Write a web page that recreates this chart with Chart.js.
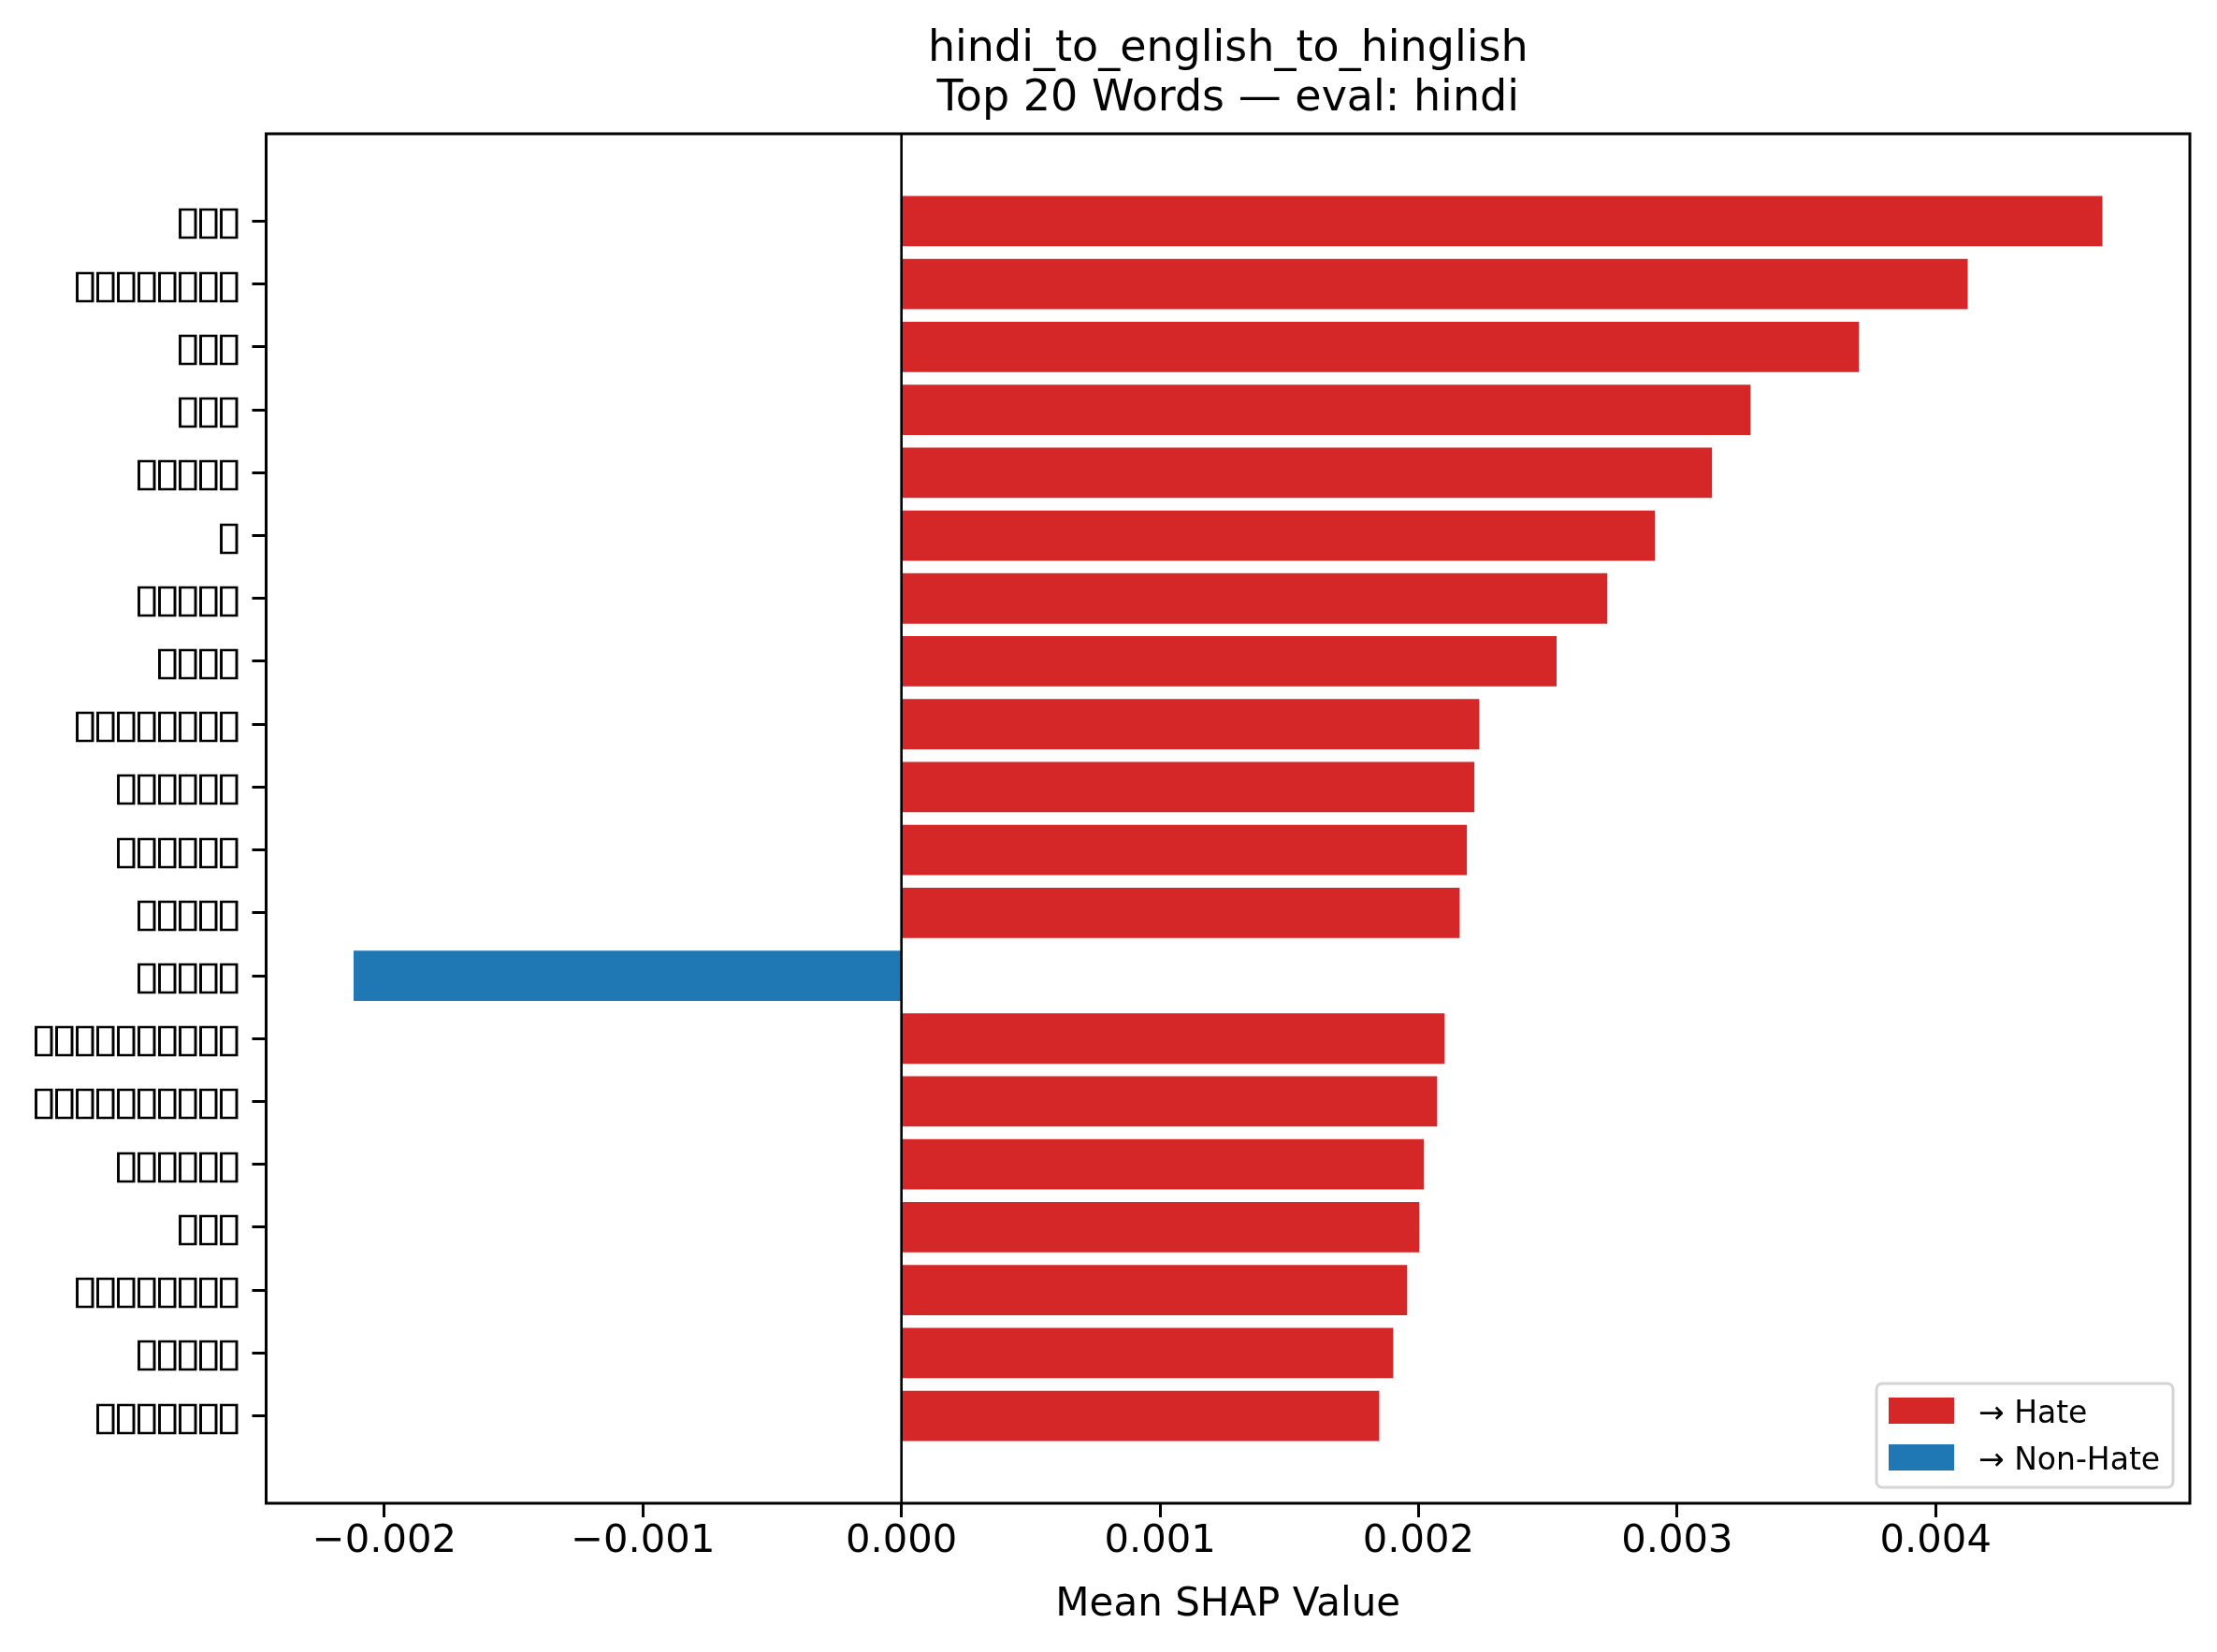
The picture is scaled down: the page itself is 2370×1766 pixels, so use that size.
<!DOCTYPE html>
<html>
<head>
<meta charset="utf-8">
<title>hindi_to_english_to_hinglish</title>
<script src="https://cdn.jsdelivr.net/npm/chart.js@4.4.1/dist/chart.umd.min.js"></script>
<style>
  html, body { margin: 0; padding: 0; background: #fff; }
  canvas { display: block; }
</style>
</head>
<body>
<canvas id="shapChart" width="2370" height="1766"></canvas>
<script>
// words as rendered in the source (glyphs missing there, shown as boxes)
const words = [
  '▯▯▯', '▯▯▯▯▯▯▯▯', '▯▯▯', '▯▯▯', '▯▯▯▯▯', '▯', '▯▯▯▯▯', '▯▯▯▯',
  '▯▯▯▯▯▯▯▯', '▯▯▯▯▯▯', '▯▯▯▯▯▯', '▯▯▯▯▯', '▯▯▯▯▯', '▯▯▯▯▯▯▯▯▯▯',
  '▯▯▯▯▯▯▯▯▯▯', '▯▯▯▯▯▯', '▯▯▯', '▯▯▯▯▯▯▯▯', '▯▯▯▯▯', '▯▯▯▯▯▯▯'
];
const shapValues = [
  0.004645, 0.004124, 0.003703, 0.003284, 0.003135, 0.002914, 0.002730, 0.002534,
  0.002235, 0.002216, 0.002187, 0.002159, -0.002119, 0.002101, 0.002072, 0.002021,
  0.002003, 0.001956, 0.001902, 0.001848
];
const xTicks = [-0.002, -0.001, 0.000, 0.001, 0.002, 0.003, 0.004];
const legendLabels = ['→ Hate', '→ Non-Hate'];

const HATE = '#d62728';
const NON_HATE = '#1f77b4';

(() => {
  // matplotlib-like 5% margins
  const vMin = Math.min(0, ...shapValues);
  const vMax = Math.max(0, ...shapValues);
  const span = vMax - vMin;
  const xMin = vMin - span * 0.05;
  const xMax = vMax + span * 0.05;
  const yLow = -0.4, yHigh = words.length - 1 + 0.4;
  const yPad = (yHigh - yLow) * 0.05;

  const fmt = (v) => (v < 0 ? '\u2212' : '') + Math.abs(v).toFixed(3);

  // word labels: each missing-glyph box drawn as a tall narrow box like the source
  const drawWordLabels = (chart) => {
    const { ctx, scales } = chart;
    const boxW = 19.5, boxH = 33, adv = 22;
    ctx.save();
    ctx.font = '100px "DejaVu Sans"';
    const m = ctx.measureText('▯');
    const inkW = m.actualBoundingBoxLeft + m.actualBoundingBoxRight;
    const inkH = m.actualBoundingBoxAscent + m.actualBoundingBoxDescent;
    const f = boxH / inkH;
    const sx = boxW / (inkW * f);
    ctx.font = (100 * f).toFixed(2) + 'px "DejaVu Sans"';
    ctx.fillStyle = '#000';
    ctx.textAlign = 'left';
    ctx.textBaseline = 'alphabetic';
    const right = scales.y.right - 15 - 15;
    words.forEach((w, i) => {
      const ty = scales.y.getPixelForValue(i);
      const chars = Array.from(w);
      chars.forEach((c, k) => {
        const j = chars.length - 1 - k;
        ctx.save();
        ctx.translate(right - j * adv - boxW, ty - 13.5);
        ctx.scale(sx, 1);
        ctx.fillText(c, m.actualBoundingBoxLeft * f, m.actualBoundingBoxAscent * f);
        ctx.restore();
      });
    });
    ctx.restore();
  };

  const framePlugin = {
    id: 'framePlugin',
    afterDatasetsDraw(chart) {
      const { ctx, chartArea: a, scales } = chart;
      ctx.save();
      // zero line
      const x0 = scales.x.getPixelForValue(0);
      ctx.strokeStyle = '#000';
      ctx.lineWidth = 2.6;
      ctx.beginPath();
      ctx.moveTo(x0, a.top);
      ctx.lineTo(x0, a.bottom);
      ctx.stroke();
      // frame
      ctx.lineWidth = 3;
      ctx.strokeRect(a.left, a.top, a.right - a.left, a.bottom - a.top);

      // title
      const cx = (a.left + a.right) / 2;
      ctx.fillStyle = '#000';
      ctx.textAlign = 'center';
      ctx.textBaseline = 'alphabetic';
      ctx.font = '46px "DejaVu Sans"';
      ctx.fillText('hindi_to_english_to_hinglish', cx, 65);
      ctx.fillText('Top 20 Words \u2014 eval: hindi', cx, 118);

      // legend, lower right inside the axes
      const w = 317, h = 111;
      const lx = a.right - 18 - w, ly = a.bottom - 17 - h;
      ctx.beginPath();
      ctx.roundRect(lx, ly, w, h, 6);
      ctx.fillStyle = 'rgba(255,255,255,0.8)';
      ctx.fill();
      ctx.strokeStyle = '#d4d4d4';
      ctx.lineWidth = 3;
      ctx.stroke();
      const colors = [HATE, NON_HATE];
      ctx.font = '33px "DejaVu Sans"';
      ctx.textAlign = 'left';
      legendLabels.forEach((lab, i) => {
        const ry = ly + 15 + i * 50;
        ctx.fillStyle = colors[i];
        ctx.fillRect(lx + 13, ry, 70, 28);
        ctx.fillStyle = '#000';
        ctx.fillText(lab, lx + 109, ry + 27);
      });
      ctx.restore();

      drawWordLabels(chart);
    }
  };

  new Chart(document.getElementById('shapChart'), {
    type: 'bar',
    data: {
      datasets: [{
        data: shapValues.map((v, i) => ({ x: v, y: i })),
        backgroundColor: shapValues.map((v) => (v < 0 ? NON_HATE : HATE)),
        borderWidth: 0,
        barPercentage: 0.8,
        categoryPercentage: 1.0
      }]
    },
    options: {
      indexAxis: 'y',
      responsive: false,
      animation: false,
      devicePixelRatio: 1,
      layout: { padding: { top: 143, right: 29, left: 0, bottom: 0 } },
      plugins: {
        legend: { display: false },
        title: { display: false },
        tooltip: { enabled: false }
      },
      scales: {
        x: {
          type: 'linear',
          min: xMin,
          max: xMax,
          afterBuildTicks: (scale) => { scale.ticks = xTicks.map((v) => ({ value: v })); },
          afterFit: (scale) => { scale.height = 159; },
          border: { display: false },
          grid: { drawOnChartArea: false, tickColor: '#000', tickLength: 15, tickWidth: 3 },
          ticks: {
            color: '#000',
            font: { family: 'DejaVu Sans', size: 41.7 },
            padding: 1,
            maxRotation: 0,
            autoSkip: false,
            callback: (v) => fmt(v)
          },
          title: {
            display: true,
            text: 'Mean SHAP Value',
            color: '#000',
            font: { family: 'DejaVu Sans', size: 42 },
            padding: { top: 0, bottom: 25 }
          }
        },
        y: {
          type: 'linear',
          reverse: true,
          offset: false,
          min: yLow - yPad,
          max: yHigh + yPad,
          afterBuildTicks: (scale) => { scale.ticks = words.map((w, i) => ({ value: i })); },
          afterFit: (scale) => { scale.width = 284.5; },
          border: { display: false },
          grid: { offset: false, drawOnChartArea: false, tickColor: '#000', tickLength: 15, tickWidth: 3 },
          ticks: { display: false, autoSkip: false }
        }
      }
    },
    plugins: [framePlugin]
  });
})();
</script>
</body>
</html>
